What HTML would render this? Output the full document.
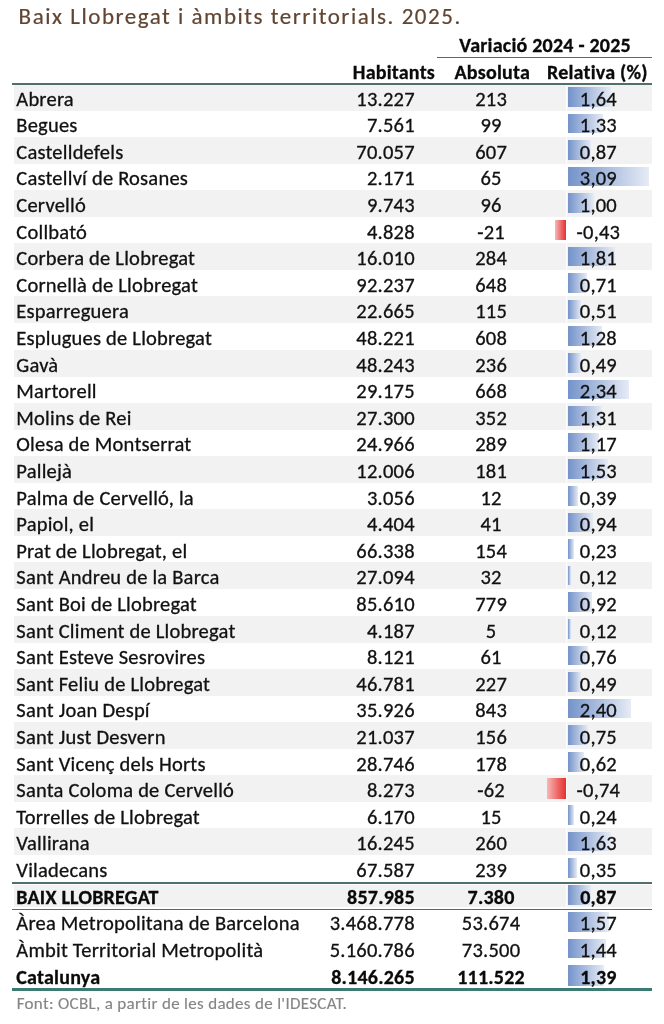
<!DOCTYPE html>
<html lang="ca"><head><meta charset="utf-8"><title>Baix Llobregat i àmbits territorials. 2025.</title>
<style>
html,body{margin:0;padding:0;background:#fff}
body{font-variant-ligatures:none;font-feature-settings:'liga' 0,'clig' 0;width:664px;height:1024px;position:relative;overflow:hidden;font-family:Carlito,"Liberation Sans",sans-serif;color:#111}
.t{position:absolute;white-space:nowrap;font-size:20.5px;line-height:1;letter-spacing:0.22px;-webkit-text-stroke:0.3px currentColor;font-size-adjust:0.4779}
.t.b{font-weight:bold;font-size:20.0px;color:#0a0a0a;font-size-adjust:0.4849}
.t.c{width:200px;text-align:center}
.g{position:absolute;left:14px;width:638px;background:#f2f2f2}
.ln{position:absolute;background:#52706b;z-index:2}
.ln2{position:absolute;background:#3c7a73;z-index:2}
.bp{position:absolute;background:linear-gradient(to right,#7493ca 0%,#e6ebf5 100%)}
.bn{position:absolute;background:linear-gradient(to right,#f7b8b8 0%,#ee6a6a 55%,#e2322f 100%)}
.title{position:absolute;font-size:23px;line-height:1;letter-spacing:1.53px;-webkit-text-stroke:0.2px currentColor;font-size-adjust:0.4779;color:#614531;white-space:nowrap}
.foot{position:absolute;font-size:17px;line-height:1;letter-spacing:0.31px;-webkit-text-stroke:0.15px currentColor;color:#858585;font-size-adjust:0.4779;white-space:nowrap}
</style></head>
<body>
<div class="g" style="top:85.0px;height:25.7px"></div>
<div class="g" style="top:136.7px;height:27.2px"></div>
<div class="g" style="top:189.9px;height:27.2px"></div>
<div class="g" style="top:243.1px;height:27.2px"></div>
<div class="g" style="top:296.3px;height:27.2px"></div>
<div class="g" style="top:349.5px;height:27.2px"></div>
<div class="g" style="top:402.7px;height:27.2px"></div>
<div class="g" style="top:455.9px;height:27.2px"></div>
<div class="g" style="top:509.1px;height:27.2px"></div>
<div class="g" style="top:562.3px;height:27.2px"></div>
<div class="g" style="top:615.5px;height:27.2px"></div>
<div class="g" style="top:668.7px;height:27.2px"></div>
<div class="g" style="top:721.9px;height:27.2px"></div>
<div class="g" style="top:775.1px;height:27.2px"></div>
<div class="g" style="top:828.3px;height:27.2px"></div>
<div class="g" style="top:885.3px;height:22.2px"></div>
<div class="ln" style="left:437px;width:215px;top:56.6px;height:1.6px"></div>
<div class="ln" style="left:12px;width:640px;top:83px;height:2px"></div>
<div class="ln" style="left:12px;width:640px;top:882px;height:1.8px"></div>
<div class="ln" style="left:12px;width:640px;top:908.6px;height:1.8px"></div>
<div class="ln2" style="left:12px;width:640px;top:988.3px;height:3.2px"></div>
<div style="position:absolute;left:565.8px;width:1.6px;top:85px;height:798px;background:#fff"></div>
<div style="position:absolute;left:565.8px;width:1.6px;top:885px;height:24px;background:#fff"></div>
<div class="bp" style="left:568.0px;top:86.9px;width:43.0px;height:19.8px"></div>
<div class="bp" style="left:568.0px;top:113.5px;width:34.9px;height:19.8px"></div>
<div class="bp" style="left:568.0px;top:140.1px;width:22.8px;height:19.8px"></div>
<div class="bp" style="left:568.0px;top:166.7px;width:81.0px;height:19.8px"></div>
<div class="bp" style="left:568.0px;top:193.3px;width:26.2px;height:19.8px"></div>
<div class="bn" style="left:555.1px;top:219.7px;width:11.3px;height:20.4px"></div>
<div class="bp" style="left:568.0px;top:246.5px;width:47.4px;height:19.8px"></div>
<div class="bp" style="left:568.0px;top:273.1px;width:18.6px;height:19.8px"></div>
<div class="bp" style="left:568.0px;top:299.7px;width:13.4px;height:19.8px"></div>
<div class="bp" style="left:568.0px;top:326.3px;width:33.6px;height:19.8px"></div>
<div class="bp" style="left:568.0px;top:352.9px;width:12.8px;height:19.8px"></div>
<div class="bp" style="left:568.0px;top:379.5px;width:61.3px;height:19.8px"></div>
<div class="bp" style="left:568.0px;top:406.1px;width:34.3px;height:19.8px"></div>
<div class="bp" style="left:568.0px;top:432.7px;width:30.7px;height:19.8px"></div>
<div class="bp" style="left:568.0px;top:459.3px;width:40.1px;height:19.8px"></div>
<div class="bp" style="left:568.0px;top:485.9px;width:10.2px;height:19.8px"></div>
<div class="bp" style="left:568.0px;top:512.5px;width:24.6px;height:19.8px"></div>
<div class="bp" style="left:568.0px;top:539.1px;width:6.0px;height:19.8px"></div>
<div class="bp" style="left:568.0px;top:565.7px;width:3.1px;height:19.8px"></div>
<div class="bp" style="left:568.0px;top:592.3px;width:24.1px;height:19.8px"></div>
<div class="bp" style="left:568.0px;top:618.9px;width:3.1px;height:19.8px"></div>
<div class="bp" style="left:568.0px;top:645.5px;width:19.9px;height:19.8px"></div>
<div class="bp" style="left:568.0px;top:672.1px;width:12.8px;height:19.8px"></div>
<div class="bp" style="left:568.0px;top:698.7px;width:62.9px;height:19.8px"></div>
<div class="bp" style="left:568.0px;top:725.3px;width:19.7px;height:19.8px"></div>
<div class="bp" style="left:568.0px;top:751.9px;width:16.3px;height:19.8px"></div>
<div class="bn" style="left:547.0px;top:778.3px;width:19.4px;height:20.4px"></div>
<div class="bp" style="left:568.0px;top:805.1px;width:6.3px;height:19.8px"></div>
<div class="bp" style="left:568.0px;top:831.7px;width:42.7px;height:19.8px"></div>
<div class="bp" style="left:568.0px;top:858.3px;width:9.2px;height:19.8px"></div>
<div class="bp" style="left:568.0px;top:885.1px;width:22.8px;height:19.8px"></div>
<div class="bp" style="left:568.0px;top:911.9px;width:41.2px;height:19.8px"></div>
<div class="bp" style="left:568.0px;top:938.5px;width:37.7px;height:19.8px"></div>
<div class="bp" style="left:568.0px;top:965.1px;width:36.4px;height:21.0px"></div>
<div class="title" style="left:18.6px;top:4.7px">Baix Llobregat i àmbits territorials. 2025.</div>
<div class="t c b" style="left:445.1px;top:35.46px">Variació 2024 - 2025</div>
<div class="t c b" style="left:293.9px;top:61.66px">Habitants</div>
<div class="t c b" style="left:392.3px;top:61.66px">Absoluta</div>
<div class="t c b" style="left:497.4px;top:61.66px">Relativa (%)</div>
<div class="t " style="left:16.3px;top:88.54px">Abrera</div>
<div class="t " style="right:249.2px;top:88.54px">13.227</div>
<div class="t c " style="left:391.1px;top:88.54px">213</div>
<div class="t c " style="left:498.4px;top:88.54px">1,64</div>
<div class="t " style="left:16.3px;top:115.14px">Begues</div>
<div class="t " style="right:249.2px;top:115.14px">7.561</div>
<div class="t c " style="left:391.1px;top:115.14px">99</div>
<div class="t c " style="left:498.4px;top:115.14px">1,33</div>
<div class="t " style="left:16.3px;top:141.74px">Castelldefels</div>
<div class="t " style="right:249.2px;top:141.74px">70.057</div>
<div class="t c " style="left:391.1px;top:141.74px">607</div>
<div class="t c " style="left:498.4px;top:141.74px">0,87</div>
<div class="t " style="left:16.3px;top:168.34px">Castellví de Rosanes</div>
<div class="t " style="right:249.2px;top:168.34px">2.171</div>
<div class="t c " style="left:391.1px;top:168.34px">65</div>
<div class="t c " style="left:498.4px;top:168.34px">3,09</div>
<div class="t " style="left:16.3px;top:194.94px">Cervelló</div>
<div class="t " style="right:249.2px;top:194.94px">9.743</div>
<div class="t c " style="left:391.1px;top:194.94px">96</div>
<div class="t c " style="left:498.4px;top:194.94px">1,00</div>
<div class="t " style="left:16.3px;top:221.54px">Collbató</div>
<div class="t " style="right:249.2px;top:221.54px">4.828</div>
<div class="t c " style="left:391.1px;top:221.54px">-21</div>
<div class="t c " style="left:498.4px;top:221.54px">-0,43</div>
<div class="t " style="left:16.3px;top:248.14px">Corbera de Llobregat</div>
<div class="t " style="right:249.2px;top:248.14px">16.010</div>
<div class="t c " style="left:391.1px;top:248.14px">284</div>
<div class="t c " style="left:498.4px;top:248.14px">1,81</div>
<div class="t " style="left:16.3px;top:274.74px">Cornellà de Llobregat</div>
<div class="t " style="right:249.2px;top:274.74px">92.237</div>
<div class="t c " style="left:391.1px;top:274.74px">648</div>
<div class="t c " style="left:498.4px;top:274.74px">0,71</div>
<div class="t " style="left:16.3px;top:301.34px">Esparreguera</div>
<div class="t " style="right:249.2px;top:301.34px">22.665</div>
<div class="t c " style="left:391.1px;top:301.34px">115</div>
<div class="t c " style="left:498.4px;top:301.34px">0,51</div>
<div class="t " style="left:16.3px;top:327.94px">Esplugues de Llobregat</div>
<div class="t " style="right:249.2px;top:327.94px">48.221</div>
<div class="t c " style="left:391.1px;top:327.94px">608</div>
<div class="t c " style="left:498.4px;top:327.94px">1,28</div>
<div class="t " style="left:16.3px;top:354.54px">Gavà</div>
<div class="t " style="right:249.2px;top:354.54px">48.243</div>
<div class="t c " style="left:391.1px;top:354.54px">236</div>
<div class="t c " style="left:498.4px;top:354.54px">0,49</div>
<div class="t " style="left:16.3px;top:381.14px">Martorell</div>
<div class="t " style="right:249.2px;top:381.14px">29.175</div>
<div class="t c " style="left:391.1px;top:381.14px">668</div>
<div class="t c " style="left:498.4px;top:381.14px">2,34</div>
<div class="t " style="left:16.3px;top:407.74px">Molins de Rei</div>
<div class="t " style="right:249.2px;top:407.74px">27.300</div>
<div class="t c " style="left:391.1px;top:407.74px">352</div>
<div class="t c " style="left:498.4px;top:407.74px">1,31</div>
<div class="t " style="left:16.3px;top:434.34px">Olesa de Montserrat</div>
<div class="t " style="right:249.2px;top:434.34px">24.966</div>
<div class="t c " style="left:391.1px;top:434.34px">289</div>
<div class="t c " style="left:498.4px;top:434.34px">1,17</div>
<div class="t " style="left:16.3px;top:460.94px">Pallejà</div>
<div class="t " style="right:249.2px;top:460.94px">12.006</div>
<div class="t c " style="left:391.1px;top:460.94px">181</div>
<div class="t c " style="left:498.4px;top:460.94px">1,53</div>
<div class="t " style="left:16.3px;top:487.54px">Palma de Cervelló, la</div>
<div class="t " style="right:249.2px;top:487.54px">3.056</div>
<div class="t c " style="left:391.1px;top:487.54px">12</div>
<div class="t c " style="left:498.4px;top:487.54px">0,39</div>
<div class="t " style="left:16.3px;top:514.14px">Papiol, el</div>
<div class="t " style="right:249.2px;top:514.14px">4.404</div>
<div class="t c " style="left:391.1px;top:514.14px">41</div>
<div class="t c " style="left:498.4px;top:514.14px">0,94</div>
<div class="t " style="left:16.3px;top:540.74px">Prat de Llobregat, el</div>
<div class="t " style="right:249.2px;top:540.74px">66.338</div>
<div class="t c " style="left:391.1px;top:540.74px">154</div>
<div class="t c " style="left:498.4px;top:540.74px">0,23</div>
<div class="t " style="left:16.3px;top:567.34px">Sant Andreu de la Barca</div>
<div class="t " style="right:249.2px;top:567.34px">27.094</div>
<div class="t c " style="left:391.1px;top:567.34px">32</div>
<div class="t c " style="left:498.4px;top:567.34px">0,12</div>
<div class="t " style="left:16.3px;top:593.94px">Sant Boi de Llobregat</div>
<div class="t " style="right:249.2px;top:593.94px">85.610</div>
<div class="t c " style="left:391.1px;top:593.94px">779</div>
<div class="t c " style="left:498.4px;top:593.94px">0,92</div>
<div class="t " style="left:16.3px;top:620.54px">Sant Climent de Llobregat</div>
<div class="t " style="right:249.2px;top:620.54px">4.187</div>
<div class="t c " style="left:391.1px;top:620.54px">5</div>
<div class="t c " style="left:498.4px;top:620.54px">0,12</div>
<div class="t " style="left:16.3px;top:647.14px">Sant Esteve Sesrovires</div>
<div class="t " style="right:249.2px;top:647.14px">8.121</div>
<div class="t c " style="left:391.1px;top:647.14px">61</div>
<div class="t c " style="left:498.4px;top:647.14px">0,76</div>
<div class="t " style="left:16.3px;top:673.74px">Sant Feliu de Llobregat</div>
<div class="t " style="right:249.2px;top:673.74px">46.781</div>
<div class="t c " style="left:391.1px;top:673.74px">227</div>
<div class="t c " style="left:498.4px;top:673.74px">0,49</div>
<div class="t " style="left:16.3px;top:700.34px">Sant Joan Despí</div>
<div class="t " style="right:249.2px;top:700.34px">35.926</div>
<div class="t c " style="left:391.1px;top:700.34px">843</div>
<div class="t c " style="left:498.4px;top:700.34px">2,40</div>
<div class="t " style="left:16.3px;top:726.94px">Sant Just Desvern</div>
<div class="t " style="right:249.2px;top:726.94px">21.037</div>
<div class="t c " style="left:391.1px;top:726.94px">156</div>
<div class="t c " style="left:498.4px;top:726.94px">0,75</div>
<div class="t " style="left:16.3px;top:753.54px">Sant Vicenç dels Horts</div>
<div class="t " style="right:249.2px;top:753.54px">28.746</div>
<div class="t c " style="left:391.1px;top:753.54px">178</div>
<div class="t c " style="left:498.4px;top:753.54px">0,62</div>
<div class="t " style="left:16.3px;top:780.14px">Santa Coloma de Cervelló</div>
<div class="t " style="right:249.2px;top:780.14px">8.273</div>
<div class="t c " style="left:391.1px;top:780.14px">-62</div>
<div class="t c " style="left:498.4px;top:780.14px">-0,74</div>
<div class="t " style="left:16.3px;top:806.74px">Torrelles de Llobregat</div>
<div class="t " style="right:249.2px;top:806.74px">6.170</div>
<div class="t c " style="left:391.1px;top:806.74px">15</div>
<div class="t c " style="left:498.4px;top:806.74px">0,24</div>
<div class="t " style="left:16.3px;top:833.34px">Vallirana</div>
<div class="t " style="right:249.2px;top:833.34px">16.245</div>
<div class="t c " style="left:391.1px;top:833.34px">260</div>
<div class="t c " style="left:498.4px;top:833.34px">1,63</div>
<div class="t " style="left:16.3px;top:859.94px">Viladecans</div>
<div class="t " style="right:249.2px;top:859.94px">67.587</div>
<div class="t c " style="left:391.1px;top:859.94px">239</div>
<div class="t c " style="left:498.4px;top:859.94px">0,35</div>
<div class="t b" style="left:16.3px;top:886.86px">BAIX LLOBREGAT</div>
<div class="t b" style="right:249.2px;top:886.86px">857.985</div>
<div class="t c b" style="left:391.1px;top:886.86px">7.380</div>
<div class="t c b" style="left:498.4px;top:886.86px">0,87</div>
<div class="t " style="left:16.3px;top:913.24px">Àrea Metropolitana de Barcelona</div>
<div class="t " style="right:249.2px;top:913.24px">3.468.778</div>
<div class="t c " style="left:391.1px;top:913.24px">53.674</div>
<div class="t c " style="left:498.4px;top:913.24px">1,57</div>
<div class="t " style="left:16.3px;top:939.84px">Àmbit Territorial Metropolità</div>
<div class="t " style="right:249.2px;top:939.84px">5.160.786</div>
<div class="t c " style="left:391.1px;top:939.84px">73.500</div>
<div class="t c " style="left:498.4px;top:939.84px">1,44</div>
<div class="t b" style="left:16.3px;top:966.86px">Catalunya</div>
<div class="t b" style="right:249.2px;top:966.86px">8.146.265</div>
<div class="t c b" style="left:391.1px;top:966.86px">111.522</div>
<div class="t c b" style="left:498.4px;top:966.86px">1,39</div>
<div class="foot" style="left:16.7px;top:995px">Font: OCBL, a partir de les dades de l'IDESCAT.</div>
</body></html>
